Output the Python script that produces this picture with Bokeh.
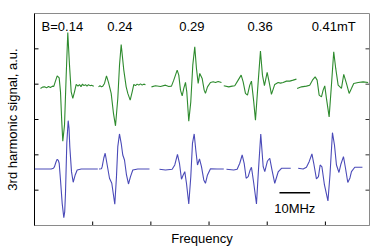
from bokeh.plotting import figure
from bokeh.models import FixedTicker, ColumnDataSource
from bokeh.core.properties import value
from bokeh.embed import file_html
from bokeh.resources import INLINE

FONT = "Liberation Sans"

# ---- data (frequency in MHz, signal in a.u. relative to each trace's baseline) ----
green_offset = 3.93
blue_offset = 1.60

green_freq = [
    [1.96, 2.61, 3.27, 3.92, 4.57, 5.22, 5.88, 6.30, 6.76, 7.41, 8.06, 8.49, 8.88, 9.24, 9.80, 10.35,
     10.87, 11.43, 11.98, 12.51, 13.06, 13.62, 14.20, 14.69, 15.18, 15.67, 16.16, 16.65, 17.14, 17.63,
     18.12, 18.61, 19.36],
    [20.90, 21.39, 21.88, 22.30, 22.86, 23.51, 24.16, 25.04, 25.79, 26.45, 27.20, 27.76, 28.31, 29.16,
     29.94, 30.47, 31.25, 31.90, 32.43, 32.98, 33.53, 34.05, 34.61, 35.16, 35.69, 36.24],
    [38.20, 39.51, 41.14, 42.78, 43.85, 44.73, 45.48, 46.59, 47.12, 47.67, 48.23, 48.75, 49.31, 49.73,
     50.38, 51.04, 51.69, 52.34, 52.89, 53.45, 53.97, 54.75, 55.41, 55.83, 56.49, 57.46, 58.35, 59.10,
     59.98, 61.06],
    [61.81, 63.44, 64.55, 65.40, 66.51, 67.49, 68.14, 68.89, 69.55, 70.30, 70.85, 71.60, 72.16, 72.97,
     73.79, 74.44, 75.09, 75.98, 76.63, 77.38, 78.46, 79.57, 80.32, 81.20, 82.28, 83.36, 84.47, 85.54],
    [85.77, 87.18, 88.81, 89.88, 90.77, 91.65, 92.30, 92.96, 93.71, 94.26, 94.79, 95.34, 96.22, 96.97,
     97.72, 98.37, 99.16, 100.24, 100.99, 101.87, 102.75, 103.50, 104.25, 105.69, 107.32, 108.96],
]
green_signal = [
    [-0.051, -0.014, -0.006, -0.034, 0.006, -0.023, 0.014, 0.006, 0.136, 0.306, 0.249, -0.147, -0.948,
     -1.542, -1.090, 0.325, 1.534, 0.608, -0.147, -0.334, -0.147, 0.062, 0.014, 0.057, 0.0, 0.071,
     0.028, 0.057, 0.014, 0.057, 0.028, 0.042, 0.014],
    [-0.006, 0.023, -0.006, 0.014, 0.091, 0.306, 0.119, -0.192, -0.758, -1.109, -0.334, 0.608, 1.194,
     0.467, -0.006, -0.192, -0.382, -0.147, 0.062, 0.028, 0.071, 0.042, 0.079, 0.042, 0.071, 0.051],
    [-0.006, 0.023, 0.006, 0.042, 0.006, 0.014, 0.184, 0.467, 0.325, -0.099, -0.260, -0.051, 0.119,
     -0.147, -0.976, -0.430, 0.608, 1.126, 0.515, 0.091, 0.374, 0.232, -0.099, -0.192, -0.006, 0.119,
     0.136, 0.119, 0.147, 0.119],
    [0.023, -0.006, 0.014, 0.023, 0.184, 0.325, 0.136, -0.192, -0.241, 0.042, 0.156, -0.430, -0.948,
     0.042, 1.005, 0.325, 0.028, 0.402, 0.127, -0.221, 0.062, 0.119, 0.099, 0.119, 0.156, 0.156, 0.184,
     0.212],
    [-0.051, -0.006, 0.014, 0.042, 0.184, 0.277, 0.184, -0.241, -0.289, -0.099, 0.023, -0.334, -0.855,
     0.042, 0.985, 0.515, 0.042, -0.051, 0.345, 0.091, -0.192, -0.051, 0.091, 0.119, 0.136, 0.119],
]

blue_freq = [
    [0.0, 5.45, 6.20, 6.53, 7.02, 7.41, 7.77, 8.06, 8.49, 9.04, 9.57, 9.86, 10.12, 10.55, 11.00, 11.27,
     11.53, 12.08, 12.64, 13.29, 13.94, 15.25, 20.67],
    [21.06, 21.88, 22.10, 22.63, 23.08, 23.74, 24.49, 25.24, 25.79, 26.22, 26.77, 27.20, 27.75, 28.31,
     28.83, 29.39, 30.04, 30.69, 31.35, 32.10, 33.73, 37.55],
    [40.81, 42.78, 44.96, 45.81, 46.69, 47.34, 48.00, 48.56, 49.08, 49.63, 50.38, 51.04, 51.59, 52.15,
     52.67, 53.23, 53.88, 54.53, 55.28, 55.83, 56.49, 57.47, 59.65, 61.81],
    [62.69, 65.07, 66.18, 67.03, 67.82, 68.47, 69.12, 69.78, 70.43, 70.85, 71.60, 72.49, 73.14, 73.89,
     74.68, 75.20, 76.08, 76.83, 77.55, 78.46, 79.57, 80.65, 83.68],
    [86.10, 87.73, 88.81, 89.69, 90.60, 91.19, 92.07, 92.73, 93.28, 93.87, 94.69, 95.83, 96.49, 97.30,
     97.96, 98.61, 99.43, 100.08, 100.90, 101.55, 102.31, 103.02, 103.51, 104.59, 107.09],
]
blue_signal = [
    [0.0, 0.0, 0.020, 0.065, 0.198, 0.275, 0.241, 0.161, -0.311, -0.973, -1.378, -1.217, -0.688, 0.727,
     1.367, 1.160, 0.631, -0.076, -0.376, -0.170, -0.028, 0.0, 0.0],
    [0.0, 0.008, 0.065, 0.311, 0.444, 0.113, -0.263, -0.405, -0.736, -0.999, -0.218, 0.631, 0.991,
     0.727, 0.396, 0.255, -0.170, -0.425, -0.218, -0.028, 0.0, 0.0],
    [-0.008, -0.028, -0.008, 0.113, 0.416, 0.161, -0.291, -0.170, -0.076, -0.405, -0.991, -0.218, 0.727,
     0.991, 0.538, 0.113, 0.283, 0.065, -0.311, -0.405, -0.170, 0.008, 0.0, 0.0],
    [-0.008, -0.028, -0.008, 0.161, 0.396, 0.161, -0.263, -0.218, -0.028, 0.048, -0.405, -0.991, -0.028,
     0.991, 0.065, -0.076, 0.226, 0.303, -0.028, -0.405, -0.085, 0.020, 0.020],
    [0.020, 0.0, 0.048, 0.207, 0.425, 0.161, -0.283, -0.218, 0.113, 0.057, -0.453, -0.906, -0.170,
     1.027, 0.679, 0.113, -0.099, 0.142, 0.348, 0.028, -0.382, -0.255, -0.076, 0.048, 0.048],
]

field_labels = ["B=0.14", "0.24", "0.29", "0.36", "0.41mT"]
field_label_freq = [9.1, 27.9, 51.4, 73.7, 97.7]
field_label_level = 5.64

x_min, x_max = 0.0, 109.4
y_min, y_max = 0.0, 6.0
x_ticks = [0, 19, 38, 57, 76, 95]
y_ticks = [1, 2, 3, 4, 5]

scalebar_start = 80.0
scalebar_len = 10.0
scalebar_level = 0.93
scalebar_text = "10MHz"

# ---- figure ----
p = figure(width=382, height=248, x_range=(x_min, x_max), y_range=(y_min, y_max),
           output_backend="svg", toolbar_location=None,
           min_border_left=34, min_border_right=13, min_border_top=13, min_border_bottom=22)
p.background_fill_color = "white"
p.border_fill_color = "white"
p.outline_line_color = "#8a8a8a"
p.outline_line_width = 1
p.xgrid.visible = False
p.ygrid.visible = False

GREEN = "#2e8b2e"
BLUE = "#4a4ab8"

for f, s in zip(green_freq, green_signal):
    p.line(f, [green_offset + si for si in s], line_color=GREEN, line_width=1.1)
for f, s in zip(blue_freq, blue_signal):
    p.line(f, [blue_offset + si for si in s], line_color=BLUE, line_width=1.1)

src = ColumnDataSource(dict(x=field_label_freq, y=[field_label_level] * len(field_labels), t=field_labels))
p.text(x="x", y="y", text="t", source=src, text_align="center", text_baseline="alphabetic",
       text_font=value(FONT), text_font_size="13px", text_color="black")

p.line([scalebar_start, scalebar_start + scalebar_len], [scalebar_level, scalebar_level],
       line_color="black", line_width=1.5)
p.text(x=[scalebar_start + scalebar_len / 2], y=[scalebar_level - 0.25], text=[scalebar_text],
       text_align="center", text_baseline="top", text_font=value(FONT), text_font_size="13px",
       text_color="black")

# tick marks (inward), drawn from the tick arrays
tick_len_x = 4 / ((x_max - x_min) and 335 / (x_max - x_min))   # 4 px in MHz
tick_len_y = 4 / (212 / (y_max - y_min))                        # 4 px in a.u.
p.segment(x0=x_ticks, y0=[y_min] * len(x_ticks), x1=x_ticks, y1=[y_min + tick_len_y] * len(x_ticks),
          line_color="black", line_width=1)
p.segment(x0=[x_min] * len(y_ticks), y0=y_ticks, x1=[x_min + tick_len_x] * len(y_ticks), y1=y_ticks,
          line_color="black", line_width=1)
p.segment(x0=[x_max - tick_len_x] * len(y_ticks), y0=y_ticks, x1=[x_max] * len(y_ticks), y1=y_ticks,
          line_color="#333333", line_width=1)

# axes: only lines and titles
for ax in (p.xaxis[0], p.yaxis[0]):
    ax.ticker = FixedTicker(ticks=[])
    ax.major_tick_in = 0
    ax.major_tick_out = 0
    ax.minor_tick_in = 0
    ax.minor_tick_out = 0
    ax.major_label_standoff = 0
    ax.axis_label_text_font = FONT
    ax.axis_label_text_font_size = "13px"
    ax.axis_label_text_font_style = "normal"
    ax.axis_label_text_color = "black"

p.xaxis[0].axis_line_color = "#8a8a8a"
p.yaxis[0].axis_line_color = "black"
p.xaxis[0].axis_label = "Frequency"
p.yaxis[0].axis_label = "3rd harmonic signal, a.u."
p.xaxis[0].axis_label_standoff = 5
p.yaxis[0].axis_label_standoff = 15

open("out.html", "w").write(file_html(p, INLINE))
